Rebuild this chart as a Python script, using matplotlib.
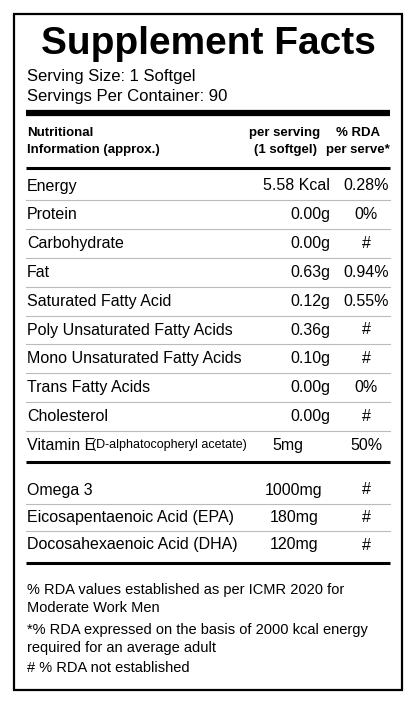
import matplotlib
matplotlib.use("Agg")
import matplotlib.pyplot as plt

title = "Supplement Facts"
serving = ["Serving Size: 1 Softgel", "Servings Per Container: 90"]
nutrients = ["Energy", "Protein", "Carbohydrate", "Fat", "Saturated Fatty Acid",
             "Poly Unsaturated Fatty Acids", "Mono Unsaturated Fatty Acids",
             "Trans Fatty Acids", "Cholesterol"]
amounts = ["5.58 Kcal", "0.00g", "0.00g", "0.63g", "0.12g", "0.36g", "0.10g", "0.00g", "0.00g"]
rda = ["0.28%", "0%", "#", "0.94%", "0.55%", "#", "#", "0%", "#"]
omega_names = ["Omega 3", "Eicosapentaenoic Acid (EPA)", "Docosahexaenoic Acid (DHA)"]
omega_amounts = ["1000mg", "180mg", "120mg"]
omega_rda = ["#", "#", "#"]
footnotes = ["% RDA values established as per ICMR 2020 for", "Moderate Work Men",
             "*% RDA expressed on the basis of 2000 kcal energy", "required for an average adult",
             "# % RDA not established"]

plt.rcParams['font.family'] = ['Liberation Sans', 'DejaVu Sans']
fig = plt.figure(figsize=(4.16, 7.06), dpi=100)
ax = fig.add_axes([0, 0, 1, 1])
ax.set_xlim(0, 416); ax.set_ylim(706, 0); ax.axis('off')

ax.add_patch(plt.Rectangle((14, 14), 388, 676, fill=False, lw=1.6, color='black'))
ax.text(208, 44, title, fontsize=28, fontweight='heavy', ha='center', va='center')
ax.text(27, 76, serving[0], fontsize=12, va='center')
ax.text(27, 96, serving[1], fontsize=12, va='center')

def hline(y, lw):
    ax.plot([26, 390], [y, y], color='black', lw=lw, solid_capstyle='butt')

hline(113, 4.5)
ax.text(27, 133, "Nutritional", fontsize=9.5, fontweight='bold', va='center')
ax.text(27, 150, "Information (approx.)", fontsize=9.5, fontweight='bold', va='center')
ax.text(285, 133, "per serving", fontsize=9.5, fontweight='bold', va='center', ha='center')
ax.text(285, 150, "(1 softgel)", fontsize=9.5, fontweight='bold', va='center', ha='center')
ax.text(358, 133, "% RDA", fontsize=9.5, fontweight='bold', va='center', ha='center')
ax.text(358, 150, "per serve*", fontsize=9.5, fontweight='bold', va='center', ha='center')
hline(168, 2.2)

y0, dy = 186, 28.8
for i, (n, a, r) in enumerate(zip(nutrients, amounts, rda)):
    y = y0 + i * dy
    ax.text(27, y, n, fontsize=11.5, va='center')
    ax.text(330, y, a, fontsize=11.5, va='center', ha='right')
    ax.text(366, y, r, fontsize=11.5, va='center', ha='center')
    ax.plot([26, 390], [y + dy / 2, y + dy / 2], color='#bbbbbb', lw=0.8)
yv = y0 + len(nutrients) * dy
ax.text(27, yv, "Vitamin E", fontsize=11.5, va='center')
ax.text(92, yv, "(D-alphatocopheryl acetate)", fontsize=9, va='center')
ax.text(288, yv, "5mg", fontsize=11.5, va='center', ha='center')
ax.text(366, yv, "50%", fontsize=11.5, va='center', ha='center')
hline(462, 2.2)

for i, (n, a, r) in enumerate(zip(omega_names, omega_amounts, omega_rda)):
    y = 490 + i * 27.5
    ax.text(27, y, n, fontsize=11.5, va='center')
    ax.text(294, y, a, fontsize=11.5, va='center', ha='center')
    ax.text(366, y, r, fontsize=11.5, va='center', ha='center')
    if i < 2:
        ax.plot([26, 390], [y + 13.75, y + 13.75], color='#bbbbbb', lw=0.8)
hline(563, 2.2)

for y, t in zip([590, 608, 630, 648, 668], footnotes):
    ax.text(27, y, t, fontsize=10.5, va='center')

fig.savefig("out.png", dpi=100, facecolor='white')
